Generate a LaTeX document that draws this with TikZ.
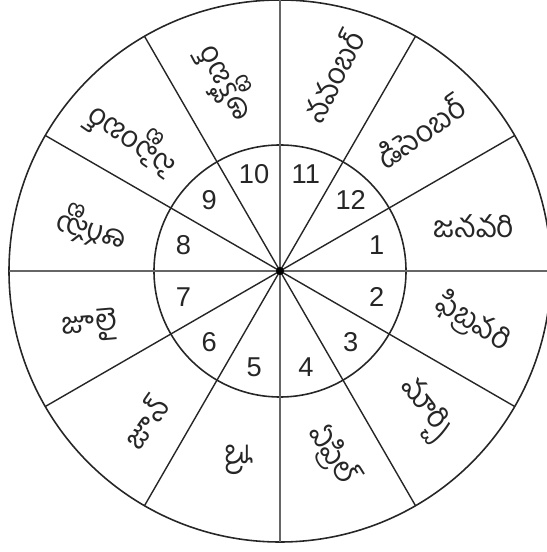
\documentclass[tikz,border=0pt]{standalone}
\usepackage{fontspec}
\setmainfont{Liberation Sans}
\newfontfamily\telugufont[Script=Telugu]{Hind Guntur}
\usepackage{tikz}
\usetikzlibrary{positioning}

\begin{document}
\begin{tikzpicture}[
  every node/.style={inner sep=0pt},
  ring/.style={draw=black!85, line width=0.9pt},
  spoke/.style={draw=black!85, line width=0.8pt},
  axis/.style={draw=black!60, line width=1.2pt},
  num/.style={font=\fontsize{15.5}{17}\selectfont, black!85},
  month/.style={font=\telugufont\fontsize{17}{19}\selectfont, black!85},
]

%% ── Frame (546 x 552 px, 1 px = 0.02 cm) ────────────────────────────────────
\useasboundingbox (-5.60, -5.62) rectangle (5.32, 5.42);

%% ── Rings and spokes ────────────────────────────────────────────────────────
\coordinate (c) at (0,0);
\draw[ring] (c) circle (5.42);
\draw[ring] (c) circle (2.52);
\foreach \a in {30,60,120,150,210,240,300,330} {
  \draw[spoke] (c) -- (\a:5.42);
}
\foreach \a in {0,90,180,270} {
  \draw[axis] (c) -- (\a:5.42);
}
\fill[black] (c) circle (0.08);

%% ── Numbers 1..12 in the inner ring ─────────────────────────────────────────
\foreach \k in {1,...,12} {
  \pgfmathsetmacro{\ang}{15-30*(\k-1)}
  \node[num] (n\k) at (\ang:2.0) {\k};
}

%% ── Month names in the outer ring ───────────────────────────────────────────
\node[month, rotate=0]   (m1)  at (13:3.98)   {జనవరి};
\node[month, rotate=-32] (m2)  at (-15:4.0)   {ఫిబ్రవరి};
\node[month, rotate=-52] (m3)  at (-44:4.0)   {మార్చి};
\node[month, rotate=-58] (m4)  at (-74:3.82)  {ఏప్రిల్};
\node[month, rotate=-90] (m5)  at (-102:3.86) {మే};
\node[month, rotate=55]  (m6)  at (-132:4.05) {జూన్};
\node[month, rotate=5]   (m7)  at (-164:3.96) {జూలై};
\node[month, rotate=165] (m8)  at (167:3.86)  {ఆగస్టు};
\node[month, rotate=145] (m9)  at (138:3.96)  {సెప్టెంబర్};
\node[month, rotate=118] (m10) at (106:3.92)  {అక్టోబర్};
\node[month, rotate=63]  (m11) at (75:4.04)   {నవంబర్};
\node[month, rotate=35]  (m12) at (45:3.96)   {డిసెంబర్};

\end{tikzpicture}
\end{document}
